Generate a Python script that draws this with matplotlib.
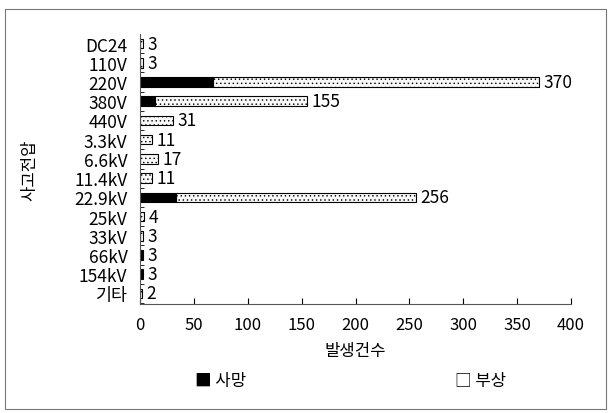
import matplotlib.pyplot as plt
import numpy as np
from matplotlib.patches import Rectangle

plt.rcParams['font.family'] = ['Noto Sans CJK KR', 'DejaVu Sans']
plt.rcParams['hatch.color'] = '#c4c4c4'
plt.rcParams['hatch.linewidth'] = 0.5

# accident counts by voltage class
voltages = ["DC24", "110V", "220V", "380V", "440V", "3.3kV", "6.6kV",
            "11.4kV", "22.9kV", "25kV", "33kV", "66kV", "154kV", "기타"]
deaths = [0, 0, 68, 14, 0, 0, 0, 0, 33, 0, 0, 2, 2, 0]
injuries = [3, 3, 302, 141, 31, 11, 17, 11, 223, 4, 3, 1, 1, 2]
totals = [3, 3, 370, 155, 31, 11, 17, 11, 256, 4, 3, 3, 3, 2]

fig = plt.figure(figsize=(6.11, 4.14), dpi=100)
ax = fig.add_axes([140 / 611, 1 - 305 / 414, 431 / 611, 270 / 414])

y = np.arange(len(voltages))
ax.barh(y, deaths, height=0.5, color="black", edgecolor="black", lw=0.8)
ax.barh(y, injuries, left=deaths, height=0.5, color="#f8f8f8",
        edgecolor="black", lw=0.8, hatch="....")

for yi, t in zip(y, totals):
    ax.text(t + 4, yi, str(t), va="center", ha="left", fontsize=12.5)

ax.set_xlim(0, 400)
ax.set_ylim(13.55, -0.5)
ax.set_xticks(np.arange(0, 401, 50))
ax.set_yticks(y)
ax.set_yticks(y + 0.5, minor=True)
ax.set_yticklabels(voltages, fontsize=12.5)
ax.tick_params(axis="x", direction="in", length=4, pad=9, labelsize=12)
ax.tick_params(axis="y", which="major", length=0, pad=9)
ax.tick_params(axis="y", which="minor", direction="in", length=3)
for s in ("top", "right"):
    ax.spines[s].set_visible(False)
for s in ("left", "bottom"):
    ax.spines[s].set_color("#555555")
    ax.spines[s].set_linewidth(0.8)

ax.set_xlabel("발생건수", fontsize=12, labelpad=6)
ax.set_ylabel("사고전압", fontsize=12)
ax.yaxis.set_label_coords(-0.235, 0.5)

# legend row under the axis
fig.text(195 / 611, 1 - 382 / 414, "■ 사망", fontsize=12, va="center")
fig.text(455 / 611, 1 - 382 / 414, "□ 부상", fontsize=12, va="center")

# outer frame
fig.patches.append(Rectangle((0.008, 0.01), 0.984, 0.965,
                             transform=fig.transFigure, fill=False,
                             edgecolor="#777777", lw=0.8))

fig.savefig("out.png", dpi=100)
